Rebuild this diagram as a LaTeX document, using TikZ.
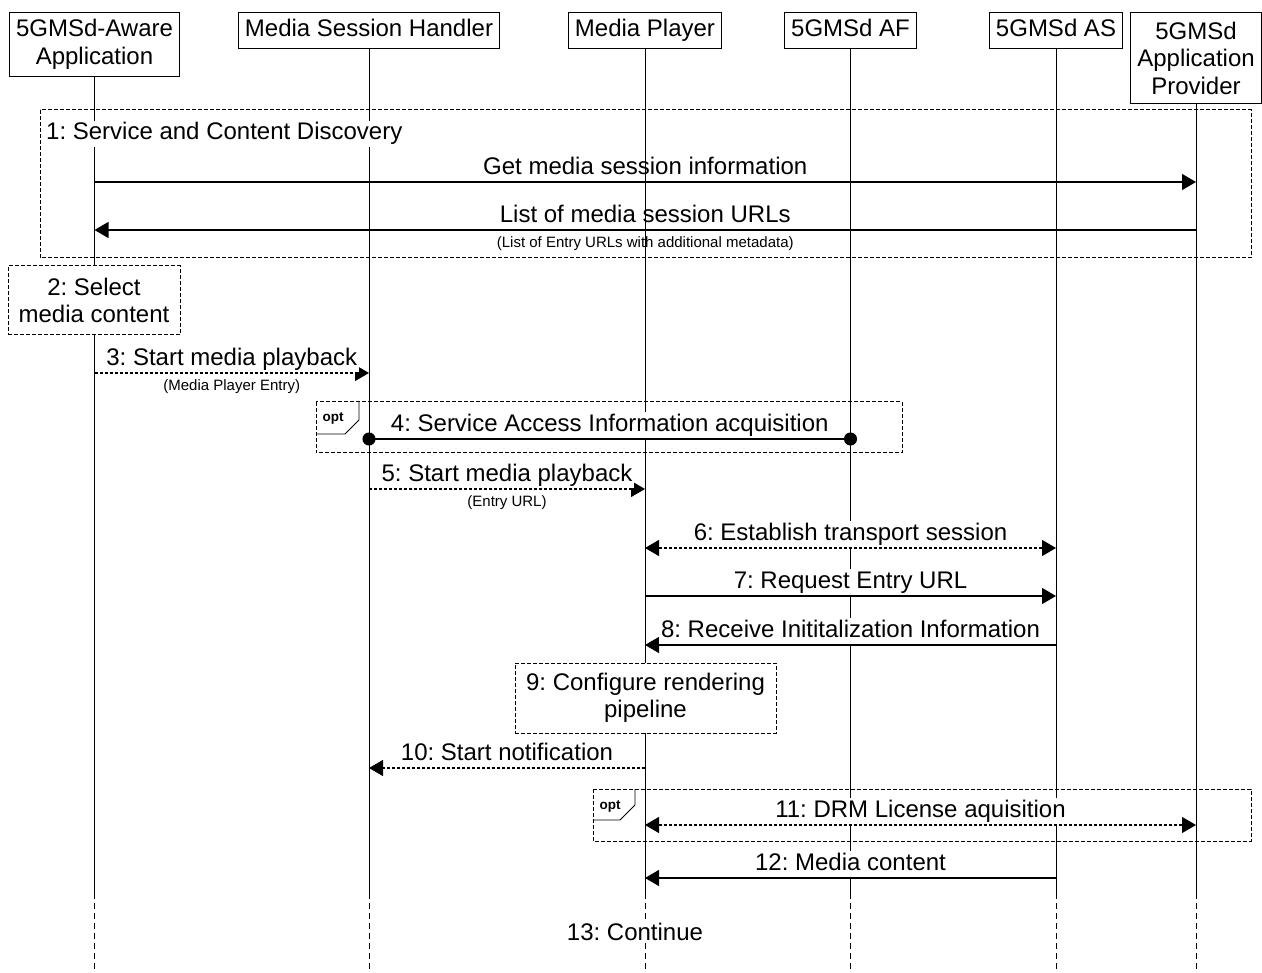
\documentclass[tikz,border=0pt]{standalone}
\usepackage{fontspec}
\setmainfont{Liberation Sans}
\usetikzlibrary{arrows.meta,positioning}
\frenchspacing

\begin{document}
\begin{tikzpicture}[x=1pt, y=-1pt, font=\fontsize{24}{27.5}\selectfont,
      actor/.style={draw, line width=0.9pt, anchor=north, align=center, inner xsep=6.5pt, inner ysep=0pt},
      single/.style={actor, text height=17pt, text depth=5pt, inner ysep=7pt},
      life/.style={line width=0.9pt},
      frame/.style={draw, line width=1pt, dash pattern=on 4pt off 2pt},
      actbox/.style={frame, fill=white, align=center, inner sep=0pt},
      call/.style={line width=1.1pt, -{Triangle[length=14pt,width=16pt]}},
      reply/.style={call, dash pattern=on 3pt off 2pt},
      both/.style={line width=1.1pt, dash pattern=on 3pt off 2pt,
        {Triangle[length=14pt,width=16pt]}-{Triangle[length=14pt,width=16pt]}},
      dotline/.style={line width=1.1pt, {Circle[length=13pt]}-{Circle[length=13pt]},
        shorten <=-6.5pt, shorten >=-6.5pt},
      lbl/.style={midway, above=0pt, inner sep=2pt, text height=17pt, text depth=5pt, fill=white},
      note/.style={midway, below=5.5pt, inner sep=1pt, font=\fontsize{15}{17}\selectfont},
      tab/.style={line width=0.9pt},
      optlbl/.style={inner sep=0pt, font=\fontsize{13.5}{15}\selectfont\bfseries}]
    \useasboundingbox (0,0) rectangle (1262,973);

    \node[actor, minimum height=64pt] (app) at (94.5,12) {5GMSd-Aware\\Application};
    \node[single] (msh) at (369,12) {Media Session Handler};
    \node[single] (mp) at (645,12) {Media Player};
    \node[single] (af) at (850.5,12) {5GMSd AF};
    \node[single] (asrv) at (1056,12) {5GMSd AS};
    \node[actor, minimum height=91pt] (ap) at (1196,12) {5GMSd\\Application\\Provider};

    \coordinate (cut) at (0,893);
    \coordinate (bottom) at (0,973);
    \foreach \n in {app,msh,mp,af,asrv,ap}
      \draw[life] (\n.south) -- (\n |- cut) (\n |- cut) edge[dash pattern=on 6pt off 4pt] (\n |- bottom);

    \foreach \r/\y in {m1/182, m2/230, m3/373, m4/439, m5/489, m6/548, m7/596,
                       m8/645, m10/768, m11/825, m12/878}
      \coordinate (\r) at (0,\y);

    \draw[frame] (40,110) rectangle (1251,258);
    \node[anchor=west, inner sep=2pt, fill=white, text height=17pt, text depth=5pt] (disc) at (44,134) {1: Service and Content Discovery};
    \draw[call] (app |- m1) -- node[lbl, fill=none] {Get media session information} (ap |- m1);
    \draw[call] (ap |- m2) -- node[lbl, fill=none] {List of media session URLs}
      node[note] {(List of Entry URLs with additional metadata)} (app |- m2);

    \node[actbox, minimum width=172pt, minimum height=69pt] (sel) at (94,300.5) {2: Select\\media content};
    \draw[reply] (app |- m3) -- node[lbl] {3: Start media playback}
      node[note] {(Media Player Entry)} (msh |- m3);

    \draw[frame] (316,402) rectangle (902,453);
    \draw[tab] (316,434) -- (345,434) -- (359,420) -- (359,402);
    \node[optlbl] (opt1) at (333,418) {opt};
    \draw[dotline] (msh |- m4) -- node[lbl] {4: Service Access Information acquisition} (af |- m4);

    \draw[reply] (msh |- m5) -- node[lbl] {5: Start media playback}
      node[note] {(Entry URL)} (mp |- m5);
    \draw[both] (mp |- m6) -- node[lbl] {6: Establish transport session} (asrv |- m6);
    \draw[call] (mp |- m7) -- node[lbl] {7: Request Entry URL} (asrv |- m7);
    \draw[call] (asrv |- m8) -- node[lbl] {8: Receive Inititalization Information} (mp |- m8);

    \node[actbox, minimum width=261pt, minimum height=70pt] (cfg) at (645.5,698) {9: Configure rendering\\pipeline};
    \draw[reply] (mp |- m10) -- node[lbl] {10: Start notification} (msh |- m10);

    \draw[frame] (593,789) rectangle (1251,841);
    \draw[tab] (593,820) -- (620,820) -- (635,805) -- (635,789);
    \node[optlbl] (opt2) at (610,806) {opt};
    \draw[both] (mp |- m11) -- node[lbl] {11: DRM License aquisition} (ap |- m11);
    \draw[call] (asrv |- m12) -- node[lbl] {12: Media content} (mp |- m12);

    \node[fill=white, inner sep=2pt] (cont) at (635,932) {13: Continue};
  \end{tikzpicture}
\end{document}
